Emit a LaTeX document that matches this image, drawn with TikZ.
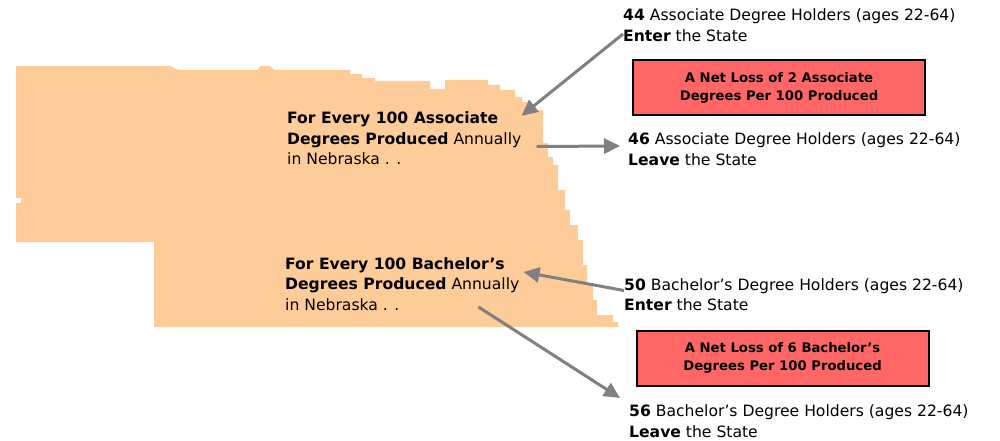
\documentclass[tikz,border=0pt]{standalone}
\usepackage{fontspec}
\setmainfont{DejaVu Sans}
\usetikzlibrary{arrows.meta}
\definecolor{peach}{RGB}{253,204,153}
\definecolor{lossred}{RGB}{255,102,102}
\definecolor{arrowgray}{RGB}{128,128,128}

\begin{document}
\begin{tikzpicture}[x=1pt,y=-1pt,>={Triangle[length=16pt,width=15pt]},
  lbl/.style={align=left,anchor=west,inner sep=0pt,font=\fontsize{15.6}{20.5}\selectfont},
  lossbox/.style={draw=black,line width=2pt,fill=lossred,minimum width=292pt,
    minimum height=55pt,align=center,font=\bfseries\fontsize{13.2}{18}\selectfont},
  flow/.style={->,draw=arrowgray,line width=3pt}]
\useasboundingbox (0,0) rectangle (1000,441);
% the state
\fill[peach] (16,66) -- (170,66) -- (178,70) -- (258,70) -- (260,66) -- (270,66)
  -- (274,70) -- (350,70) -- (350,74) -- (362,74) -- (362,78) -- (375,78)
  -- (375,81) -- (430,81) -- (430,89) -- (445,89) -- (445,80) -- (488,80)
  -- (488,85) -- (500,85) -- (500,90) -- (515,90) -- (515,97) -- (522,97)
  -- (522,102) -- (532,102) -- (532,110) -- (543,110) -- (543,143) -- (548,143)
  -- (548,157) -- (553,157) -- (553,165) -- (558,165) -- (558,190) -- (565,190)
  -- (565,210) -- (570,210) -- (570,225) -- (578,225) -- (578,240) -- (583,240)
  -- (583,265) -- (587,265) -- (587,283) -- (593,283) -- (593,300) -- (597,300)
  -- (597,315) -- (613,315) -- (613,322) -- (618,322) -- (618,327) -- (154,327)
  -- (154,242) -- (16,242) -- (16,203) -- (21,203) -- (21,198) -- (16,198) -- cycle;
% texts
\node[lbl] (asc) at (287,138.5) {\textbf{For Every 100 Associate}\\
  \textbf{Degrees Produced} Annually\\in Nebraska . .};
\node[lbl] (bach) at (285,284) {\textbf{For Every 100 Bachelor’s}\\
  \textbf{Degrees Produced} Annually\\in Nebraska . .};
\node[lbl] (ascin) at (623,25) {\textbf{44} Associate Degree Holders (ages 22-64)\\
  \textbf{Enter} the State};
\node[lbl] (ascout) at (628,149) {\textbf{46} Associate Degree Holders (ages 22-64)\\
  \textbf{Leave} the State};
\node[lbl] (bachin) at (624,294.5) {\textbf{50} Bachelor’s Degree Holders (ages 22-64)\\
  \textbf{Enter} the State};
\node[lbl] (bachout) at (629,421) {\textbf{56} Bachelor’s Degree Holders (ages 22-64)\\
  \textbf{Leave} the State};
\node[lossbox] (ascloss) at (779,87.5) {A Net Loss of 2 Associate\\Degrees Per 100 Produced};
\node[lossbox] (bachloss) at (782.5,358) {A Net Loss of 6 Bachelor’s\\Degrees Per 100 Produced};
% flows
\draw[flow] ([yshift=-9pt]ascin.west) -- ([shift={(0pt,-4pt)}]asc.north east);
\draw[flow] ([shift={(15pt,-8pt)}]asc.east) -- ([shift={(-8pt,3pt)}]ascout.west);
\draw[flow] ([yshift=4pt]bachin.west) -- ([shift={(4pt,12pt)}]bach.east);
\draw[flow] ([shift={(-41pt,-23pt)}]bach.east) -- ([shift={(-9pt,23pt)}]bachout.west);
\end{tikzpicture}
\end{document}
